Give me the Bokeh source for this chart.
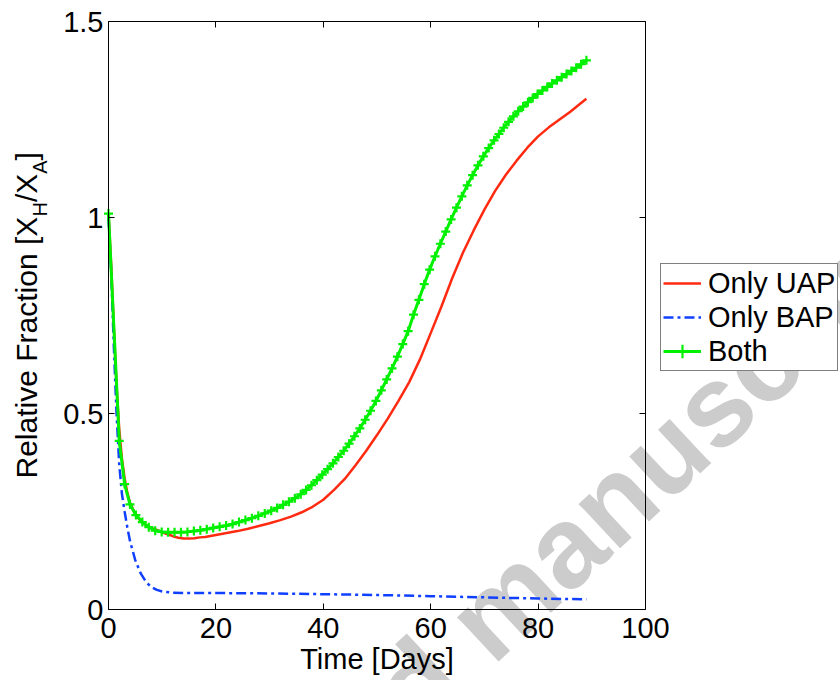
from bokeh.plotting import figure
from bokeh.models import Range1d, LinearAxis, FixedTicker, Legend, LegendItem, Label
from bokeh.embed import file_html
from bokeh.resources import INLINE

# ---------------- data ----------------
series_labels = ["Only UAP", "Only BAP", "Both"]

uap_t = [0, 0.5, 1, 1.5, 2, 2.5, 3, 3.5, 4, 5, 6, 7, 8, 9, 10, 11, 12, 13, 14, 15, 16, 17, 18,
         20, 22, 24, 26, 28, 30, 32, 34, 36, 38, 40, 42, 44, 46, 48, 50, 52, 54, 56, 58, 60,
         62, 64, 66, 68, 70, 72, 74, 76, 78, 80, 82, 84, 86, 88, 89]
uap_v = [1.01, 0.88, 0.72, 0.57, 0.46, 0.385, 0.335, 0.298, 0.272, 0.243, 0.226, 0.215, 0.208,
         0.203, 0.197, 0.192, 0.187, 0.183, 0.181, 0.181, 0.182, 0.184, 0.185,
         0.19, 0.195, 0.2, 0.206, 0.213, 0.22, 0.228, 0.237, 0.248, 0.262, 0.28, 0.305, 0.333,
         0.368, 0.405, 0.445, 0.487, 0.532, 0.58, 0.638, 0.705, 0.773, 0.845, 0.91, 0.967,
         1.02, 1.068, 1.109, 1.145, 1.178, 1.207, 1.23, 1.25, 1.27, 1.292, 1.303]

bap_t = [0, 0.5, 1, 1.5, 2, 2.5, 3, 3.5, 4, 5, 6, 7, 8, 9, 10, 12, 15, 20, 30, 40, 50, 60, 70, 80, 89]
bap_v = [1.0, 0.86, 0.67, 0.5, 0.37, 0.295, 0.25, 0.21, 0.175, 0.125, 0.092, 0.07, 0.057, 0.05,
         0.046, 0.043, 0.042, 0.042, 0.041, 0.039, 0.037, 0.034, 0.031, 0.028, 0.026]

both_t = [0, 2.0, 3.0, 4.0, 5.1, 6.3, 7.5, 8.7, 9.9, 11.1, 12.3, 13.5, 14.7, 15.9, 17.1, 18.3,
          19.5, 20.7, 21.9, 23.1, 24.3, 25.5, 26.7, 27.9, 29.1, 30.3, 31.4, 32.5, 33.6, 34.7,
          35.8, 36.8, 37.8, 38.8, 39.8, 40.8, 41.8, 42.8, 43.8, 44.8, 45.8, 46.8, 47.8, 48.8,
          49.8, 50.8, 51.8, 52.8, 53.8, 54.8, 55.8, 56.8, 57.8, 58.8, 59.8, 60.8, 61.8, 62.8,
          63.8, 64.8, 65.8, 66.8, 67.8, 68.8, 69.8, 70.8, 71.8, 72.7, 73.6, 74.5, 75.4, 76.3,
          77.2, 78.1, 79.0, 79.9, 80.8, 81.7, 82.6, 83.5, 84.4, 85.3, 86.2, 87.1, 88.0, 89.0]
both_v = [1.01, 0.43, 0.32, 0.268, 0.241, 0.223, 0.21, 0.201, 0.198, 0.197, 0.197, 0.197, 0.198,
          0.2, 0.202, 0.205, 0.208, 0.211, 0.214, 0.218, 0.223, 0.228, 0.233, 0.239, 0.245,
          0.252, 0.259, 0.267, 0.275, 0.284, 0.294,
          0.305, 0.317, 0.33, 0.344, 0.358, 0.373, 0.389, 0.405, 0.423, 0.442, 0.462, 0.484,
          0.507, 0.532, 0.559, 0.587, 0.615, 0.645, 0.677, 0.71, 0.752, 0.79, 0.83, 0.867,
          0.901, 0.933, 0.964, 0.995, 1.025, 1.054, 1.082, 1.108, 1.133, 1.156, 1.177, 1.197,
          1.213, 1.229, 1.244, 1.258, 1.271, 1.283, 1.294, 1.305, 1.315, 1.324, 1.333, 1.342,
          1.35, 1.358, 1.366, 1.374, 1.382, 1.391, 1.401]

x_ticks = [0, 20, 40, 60, 80, 100]
y_ticks = [0, 0.5, 1, 1.5]
y_tick_labels = ["0", "0.5", "1", "1.5"]
x_bounds = (0, 100)
y_bounds = (0, 1.5)
x_title = "Time [Days]"
y_title_parts = ["Relative Fraction [X", "H", "/X", "A", "]"]
watermark_text = "Accepted manuscript"

# ---------------- layout (pixels) ----------------
W, H = 840, 680
AX_L, AX_R, AX_T, AX_B = 108, 645, 21, 609      # where the axes box sits on the canvas
px_x = (AX_R - AX_L) / (x_bounds[1] - x_bounds[0])
px_y = (AX_B - AX_T) / (y_bounds[1] - y_bounds[0])
x_rng = Range1d(x_bounds[0] - AX_L / px_x, x_bounds[1] + (W - AX_R) / px_x)
y_rng = Range1d(y_bounds[0] - (H - AX_B) / px_y, y_bounds[1] + AX_T / px_y)

FONT = "Liberation Sans"
RED = "#ff2a10"
BLUE = "#1040ff"
GREEN = "#00f000"

p = figure(width=W, height=H, x_range=x_rng, y_range=y_rng,
           output_backend="svg", toolbar_location=None, x_axis_location=None, y_axis_location=None,
           min_border=0, min_border_left=0, min_border_right=0, min_border_top=0, min_border_bottom=0,
           background_fill_color="white", border_fill_color="white", outline_line_color=None)
p.xgrid.visible = False
p.ygrid.visible = False


def make_axis(ticks, bounds, loc, show_labels):
    ax = LinearAxis(fixed_location=loc, bounds=bounds, ticker=FixedTicker(ticks=ticks))
    ax.major_tick_in = 6
    ax.major_tick_out = 0
    ax.minor_tick_line_color = None
    ax.axis_line_color = "black"
    ax.axis_line_width = 1
    ax.major_tick_line_color = "black"
    ax.major_tick_line_width = 1
    ax.level = "overlay"
    if show_labels:
        ax.major_label_text_font = FONT
        ax.major_label_text_font_size = "29px"
        ax.major_label_text_color = "black"
    else:
        ax.major_label_text_font_size = "1px"
        ax.major_label_text_color = None
        ax.major_label_standoff = 0
    return ax


# watermark first so it lies beneath legend, axes and lines
wm = Label(x=63, y=H - 1012, x_units="screen", y_units="screen", text=watermark_text,
           angle=43, angle_units="deg", text_font=FONT, text_font_style="bold",
           text_font_size="115px", text_color="#cccccc", text_align="left",
           text_baseline="alphabetic", level="annotation")
p.add_layout(wm)

xa = make_axis(x_ticks, x_bounds, y_bounds[0], True)
xa.major_label_standoff = 8
xa.axis_label = x_title
xa.axis_label_text_font = FONT
xa.axis_label_text_font_size = "29px"
xa.axis_label_text_font_style = "normal"
xa.axis_label_text_color = "black"
xa.axis_label_standoff = 2
p.add_layout(xa, "below")

ya = make_axis(y_ticks, y_bounds, x_bounds[0], True)
ya.major_label_standoff = 5
ya.major_label_overrides = {float(t): s for t, s in zip(y_ticks, y_tick_labels)}
p.add_layout(ya, "left")

p.add_layout(make_axis(x_ticks, x_bounds, y_bounds[1], False), "above")
p.add_layout(make_axis(y_ticks, y_bounds, x_bounds[1], False), "right")

# data lines
r_uap = p.line(uap_t, uap_v, line_color=RED, line_width=2.5)
r_bap = p.line(bap_t, bap_v, line_color=BLUE, line_width=2.5, line_dash="10 4 3 4")
r_both = p.line(both_t, both_v, line_color=GREEN, line_width=3)
r_both_pts = p.scatter(both_t, both_v, marker="cross", size=9, line_color=GREEN, line_width=2.2)
for r in (r_uap, r_bap, r_both, r_both_pts):
    r.level = "overlay"

legend = Legend(items=[LegendItem(label=series_labels[0], renderers=[r_uap]),
                       LegendItem(label=series_labels[1], renderers=[r_bap]),
                       LegendItem(label=series_labels[2], renderers=[r_both, r_both_pts])],
                location=(660, H - 371), orientation="vertical", padding=2, spacing=0, margin=0,
                glyph_width=38, glyph_height=34, label_height=34, label_standoff=7,
                label_text_font=FONT, label_text_font_size="29px", label_text_color="black",
                border_line_color="black", border_line_width=1,
                background_fill_color="white", background_fill_alpha=1.0,
                level="annotation")
p.add_layout(legend)

# y-axis title with subscripts, rotated (screen units, origin bottom-left of canvas)
main_x, sub_x = 26, 39
starts = [478, 216, 201.6, 173.2, 159.9]          # canvas y where each piece starts
sizes = ["30px", "20px", "30px", "20px", "30px"]
xs = [main_x, sub_x, main_x, sub_x, main_x]
for txt, y0, sz, xx in zip(y_title_parts, starts, sizes, xs):
    p.add_layout(Label(x=xx, y=H - y0, x_units="screen", y_units="screen", text=txt,
                       angle=90, angle_units="deg", text_font=FONT, text_font_size=sz,
                       text_color="black", text_align="left", text_baseline="alphabetic",
                       level="annotation"))

open("out.html", "w").write(file_html(p, INLINE))
